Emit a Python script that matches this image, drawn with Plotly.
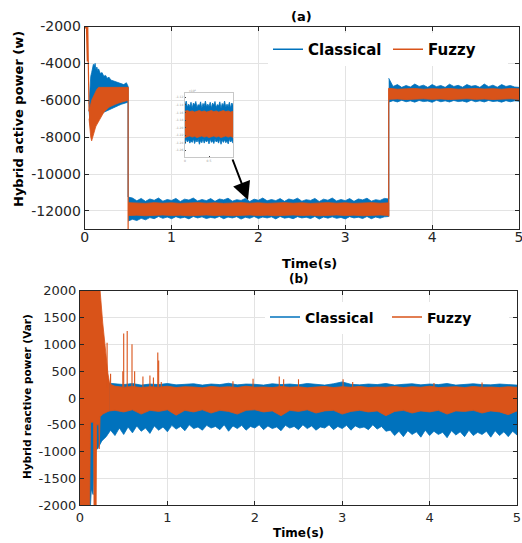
import plotly.graph_objects as go

W, H = 522, 543
BLUE = "#0072BD"
ORANGE = "#D95319"
FONT = "DejaVu Sans"
TXT = "#262626"
GRID = "#e3e3e3"

# ---------------- panel (a): hybrid active power (W) ----------------
t_a0 = [0.0, 0.01, 0.02, 0.03, 0.035, 0.04, 0.045, 0.05]
fuzzy_a0 = [-2000, -2100, -2000, -3900, -2000, -4000, -5600, -6600]

# segment 1: 0.05 - 0.5 s  (upper / lower envelopes)
t_a1 = [0.05, 0.06, 0.07, 0.08, 0.09, 0.10, 0.11, 0.12, 0.13, 0.14, 0.15, 0.16, 0.18,
        0.20, 0.22, 0.24, 0.26, 0.28, 0.30, 0.33, 0.36, 0.39, 0.42, 0.45, 0.48, 0.50]
classical_a1_up = [-6200, -5200, -4700, -4500, -4300, -4050, -4150, -4000, -4350, -4200, -4400, -4300, -4550,
                   -4500, -4700, -4650, -4800, -4750, -4900, -4950, -5000, -5050, -5100, -5150, -5050, -5250]
classical_a1_lo = [-6500, -7200, -7500, -7600, -7500, -7400, -7300, -7200, -7100, -7050, -6950, -6900, -6800,
                   -6750, -6650, -6600, -6550, -6500, -6450, -6400, -6350, -6280, -6220, -6170, -6120, -6100]
fuzzy_a1_up = [-6600, -6300, -6200, -6000, -5900, -5750, -5650, -5550, -5450, -5400, -5350, -5300, -5300,
               -5300, -5300, -5300, -5300, -5300, -5300, -5300, -5300, -5300, -5300, -5300, -5300, -5300]
fuzzy_a1_lo = [-7000, -7600, -8000, -8200, -8100, -7900, -7700, -7550, -7400, -7300, -7200, -7100, -6950,
               -6800, -6650, -6550, -6450, -6380, -6330, -6250, -6200, -6150, -6100, -6050, -6020, -6000]

# segment 2: 0.5 - 3.5 s
t_a2c = [0.50, 0.55, 0.60, 0.65, 0.70, 0.75, 0.80, 0.85, 0.90, 0.95,
         1.00, 1.05, 1.10, 1.15, 1.20, 1.25, 1.30, 1.35, 1.40, 1.45,
         1.50, 1.55, 1.60, 1.65, 1.70, 1.75, 1.80, 1.85, 1.90, 1.95,
         2.00, 2.05, 2.10, 2.15, 2.20, 2.25, 2.30, 2.35, 2.40, 2.45,
         2.50, 2.55, 2.60, 2.65, 2.70, 2.75, 2.80, 2.85, 2.90, 2.95,
         3.00, 3.05, 3.10, 3.15, 3.20, 3.25, 3.30, 3.35, 3.40, 3.45, 3.50]
classical_a2_up = [-11250, -11300, -11450, -11320, -11480, -11350, -11420, -11300, -11470, -11380,
                   -11430, -11320, -11490, -11360, -11410, -11300, -11460, -11380, -11440, -11330,
                   -11480, -11350, -11400, -11310, -11470, -11390, -11430, -11320, -11490, -11360,
                   -11420, -11300, -11450, -11380, -11440, -11330, -11480, -11350, -11410, -11310,
                   -11470, -11390, -11430, -11320, -11490, -11360, -11420, -11300, -11460, -11380,
                   -11440, -11330, -11480, -11350, -11400, -11310, -11470, -11390, -11430, -11320, -11350]
classical_a2_lo = [-12550, -12450, -12520, -12400, -12480, -12360, -12420, -12300, -12400, -12330,
                   -12420, -12310, -12390, -12340, -12430, -12300, -12380, -12320, -12410, -12350,
                   -12390, -12300, -12420, -12330, -12380, -12310, -12440, -12340, -12400, -12300,
                   -12410, -12330, -12380, -12320, -12430, -12300, -12390, -12350, -12420, -12310,
                   -12380, -12340, -12410, -12300, -12440, -12330, -12390, -12320, -12400, -12350,
                   -12430, -12310, -12380, -12340, -12410, -12300, -12420, -12330, -12390, -12320, -12300]
t_a2f = [0.5, 0.6, 0.7, 0.8, 0.9, 1.0, 1.1, 1.2, 1.3, 1.4, 1.5, 1.6, 1.7, 1.8, 1.9, 2.0,
         2.1, 2.2, 2.3, 2.4, 2.5, 2.6, 2.7, 2.8, 2.9, 3.0, 3.1, 3.2, 3.3, 3.4, 3.5]
fuzzy_a2_up = [-11550, -11570, -11590, -11550, -11580, -11560, -11590, -11570, -11550, -11580, -11560, -11590,
               -11570, -11550, -11580, -11560, -11590, -11570, -11550, -11580, -11560, -11590, -11570, -11550,
               -11580, -11560, -11590, -11570, -11550, -11580, -11560]
fuzzy_a2_lo = [-12250, -12230, -12260, -12240, -12220, -12250, -12230, -12260, -12240, -12220, -12250, -12230,
               -12260, -12240, -12220, -12250, -12230, -12260, -12240, -12220, -12250, -12230, -12260, -12240,
               -12220, -12250, -12230, -12260, -12240, -12220, -12250]

# segment 3: 3.5 - 5 s
t_a3c = [3.50, 3.55, 3.60, 3.65, 3.70, 3.75, 3.80, 3.85, 3.90, 3.95,
         4.00, 4.05, 4.10, 4.15, 4.20, 4.25, 4.30, 4.35, 4.40, 4.45,
         4.50, 4.55, 4.60, 4.65, 4.70, 4.75, 4.80, 4.85, 4.90, 4.95, 5.00]
classical_a3_up = [-4800, -5250, -5150, -5300, -5200, -5280, -5120, -5250, -5180, -5300,
                   -5150, -5260, -5200, -5300, -5130, -5250, -5190, -5290, -5150, -5240,
                   -5200, -5300, -5120, -5260, -5180, -5290, -5150, -5250, -5200, -5280, -5300]
classical_a3_lo = [-6100, -6020, -6090, -6000, -6080, -6030, -6100, -6010, -6070, -6040,
                   -6110, -6000, -6080, -6030, -6090, -6010, -6070, -6040, -6100, -6000,
                   -6080, -6030, -6090, -6010, -6070, -6040, -6100, -6020, -6080, -6030, -6050]
t_a3f = [3.5, 3.6, 3.7, 3.8, 3.9, 4.0, 4.1, 4.2, 4.3, 4.4, 4.5, 4.6, 4.7, 4.8, 4.9, 5.0]
fuzzy_a3_up = [-5350, -5400, -5380, -5360, -5400, -5370, -5390, -5360, -5400, -5380, -5360, -5390, -5370,
               -5400, -5360, -5380]
fuzzy_a3_lo = [-5950, -5930, -5960, -5940, -5920, -5950, -5930, -5960, -5940, -5920, -5950, -5930, -5960,
               -5940, -5920, -5950]
fuzzy_step_low = [-13000, -12300]

# ---------------- panel (b): hybrid reactive power (Var) ----------------
t_b_up = [0.0, 0.2, 0.3, 0.4, 0.5, 0.6, 0.7, 0.8, 0.9, 1.0, 1.1, 1.2, 1.3, 1.4,
          1.5, 1.6, 1.7, 1.8, 1.9, 2.0, 2.1, 2.2, 2.3, 2.4, 2.5, 2.6, 2.7, 2.8, 2.9, 3.0, 3.1, 3.2,
          3.3, 3.4, 3.5, 3.6, 3.7, 3.8, 3.9, 4.0, 4.1, 4.2, 4.3, 4.4, 4.5, 4.6, 4.7, 4.8, 4.9, 5.0]
classical_b_up = [300, 300, 280, 260, 250, 270, 240, 260, 250, 270, 245, 255, 265, 240,
                  260, 250, 275, 245, 260, 255, 240, 265, 250, 260, 245, 270, 255, 240, 265, 300, 255, 245,
                  260, 250, 270, 240, 255, 265, 245, 260, 250, 270, 240, 255, 265, 250, 245, 260, 250, 240]
t_b_lo = [0.0, 0.12, 0.13, 0.15, 0.16,
          0.20, 0.25, 0.30, 0.35, 0.40, 0.45, 0.50, 0.55, 0.60, 0.65, 0.70, 0.75, 0.80, 0.85, 0.90, 0.95,
          1.00, 1.05, 1.10, 1.15, 1.20, 1.25, 1.30, 1.35, 1.40, 1.45, 1.50, 1.55, 1.60, 1.65, 1.70, 1.75,
          1.80, 1.85, 1.90, 1.95, 2.00, 2.05, 2.10, 2.15, 2.20, 2.25, 2.30, 2.35, 2.40, 2.45, 2.50, 2.55,
          2.60, 2.65, 2.70, 2.75, 2.80, 2.85, 2.90, 2.95, 3.00, 3.05, 3.10, 3.15, 3.20, 3.25, 3.30, 3.35,
          3.40, 3.45, 3.50, 3.55, 3.60, 3.65, 3.70, 3.75, 3.80, 3.85, 3.90, 3.95, 4.00, 4.05, 4.10, 4.15,
          4.20, 4.25, 4.30, 4.35, 4.40, 4.45, 4.50, 4.55, 4.60, 4.65, 4.70, 4.75, 4.80, 4.85, 4.90, 4.95, 5.00]
classical_b_lo = [-2000, -2000, -1700, -1800, -1000,
                  -950, -800, -720, -600, -700, -560, -680, -540, -650, -520, -620, -560, -660, -520, -600, -540,
                  -630, -510, -580, -530, -610, -500, -570, -540, -600, -510, -560, -530, -590, -500, -620, -520,
                  -570, -510, -600, -530, -560, -500, -590, -520, -570, -540, -610, -510, -560, -530, -590, -500,
                  -570, -520, -600, -540, -560, -500, -590, -530, -570, -510, -600, -520, -560, -540, -590, -500,
                  -580, -530, -620, -600, -700, -620, -720, -610, -680, -630, -730, -600, -700, -620, -680, -640,
                  -740, -610, -690, -630, -720, -600, -700, -640, -680, -620, -730, -610, -700, -630, -720, -620, -690]

t_bf0 = [0.0, 0.11, 0.12, 0.155, 0.16, 0.185, 0.19, 0.215, 0.22, 0.23, 0.26, 0.29, 0.32, 0.34]
fuzzy_b0_up = [2000, 2000, 2000, 2000, 2000, 2000, 2000, 2000, 2000, 2000, 1400, 900, 450, 260]
fuzzy_b0_lo = [-2000, -2000, -450, -450, -2000, -2000, -500, -500, -950, -350, -300, -270, -250, -240]

t_bf = [0.34, 0.4, 0.5, 0.6, 0.7, 0.8, 0.9, 1.0, 1.1, 1.2, 1.3, 1.4, 1.5, 1.6, 1.7, 1.8, 1.9, 2.0,
        2.1, 2.2, 2.3, 2.4, 2.5, 2.6, 2.7, 2.8, 2.9, 3.0, 3.1, 3.2, 3.3, 3.4, 3.5, 3.6, 3.7, 3.8,
        3.9, 4.0, 4.1, 4.2, 4.3, 4.4, 4.5, 4.6, 4.7, 4.8, 4.9, 5.0]
fuzzy_b_up = [260, 220, 200, 215, 195, 210, 200, 220, 195, 210, 205, 190, 215, 200, 210, 195, 220, 200,
              205, 195, 215, 200, 210, 190, 205, 215, 195, 210, 200, 215, 195, 205, 200, 215, 195, 210,
              200, 220, 195, 205, 210, 195, 215, 200, 205, 195, 210, 200]
fuzzy_b_lo = [-240, -230, -260, -220, -300, -230, -250, -220, -320, -230, -260, -220, -280, -230, -250,
              -300, -230, -220, -260, -240, -330, -230, -250, -220, -280, -240, -230, -300, -250, -230,
              -260, -240, -330, -250, -230, -280, -240, -260, -230, -300, -240, -250, -230, -280, -240,
              -260, -310, -240]

fuzzy_spike_t = [0.31, 0.35, 0.49, 0.50, 0.54, 0.595, 0.625, 0.72, 0.80, 0.84, 0.89, 0.90, 0.93,
                 1.75, 1.98, 2.28, 2.33, 2.50, 3.01, 3.12, 4.05, 4.60]
fuzzy_spike_v = [1030, 450, 500, 1200, 1250, 1000, 500, 400, 420, 380, 850, 700, 300,
                 310, 360, 400, 350, 350, 350, 300, 280, 290]
fuzzy_spike_base = 200

# tick labels
ticks_a_y = [-12000, -10000, -8000, -6000, -4000, -2000]
ticks_b_y = [-2000, -1500, -1000, -500, 0, 500, 1000, 1500, 2000]
ticks_x = [0, 1, 2, 3, 4, 5]
inset_ticks_y = [-12600, -12400, -12200, -12000, -11800, -11600, -11400, -11200]


def X(px):
    return px / W


def Y(py):
    return 1 - py / H


def band(xu, up, xl, lo, color, xa, ya, lw=0.8):
    return go.Scatter(x=list(xu) + list(xl)[::-1], y=list(up) + list(lo)[::-1],
                      fill="toself", fillcolor=color, mode="lines",
                      line=dict(color=color, width=lw), showlegend=False,
                      hoverinfo="skip", xaxis=xa, yaxis=ya)


def vline(x, y0, y1, color, xa, ya, w=1.2):
    return go.Scatter(x=[x, x], y=[y0, y1], mode="lines", line=dict(color=color, width=w),
                      showlegend=False, hoverinfo="skip", xaxis=xa, yaxis=ya)


fig = go.Figure()

# ---- panel (a) + inset ----
for xa, ya in (("x", "y"), ("x3", "y3")):
    fig.add_trace(band(t_a1, classical_a1_up, t_a1, classical_a1_lo, BLUE, xa, ya))
    fig.add_trace(band(t_a2c, classical_a2_up, t_a2c, classical_a2_lo, BLUE, xa, ya))
    fig.add_trace(band(t_a3c, classical_a3_up, t_a3c, classical_a3_lo, BLUE, xa, ya))
    fig.add_trace(vline(t_a2c[0], classical_a1_lo[-1], classical_a2_up[0], BLUE, xa, ya))
    fig.add_trace(vline(t_a3c[0], classical_a2_up[-1], classical_a3_lo[0], BLUE, xa, ya))
    fig.add_trace(band(t_a1, fuzzy_a1_up, t_a1, fuzzy_a1_lo, ORANGE, xa, ya))
    fig.add_trace(band(t_a2f, fuzzy_a2_up, t_a2f, fuzzy_a2_lo, ORANGE, xa, ya))
    fig.add_trace(band(t_a3f, fuzzy_a3_up, t_a3f, fuzzy_a3_lo, ORANGE, xa, ya))
    fig.add_trace(vline(t_a2f[0], fuzzy_a1_up[-1], fuzzy_step_low[0], ORANGE, xa, ya))
    fig.add_trace(vline(t_a3f[0], fuzzy_step_low[1], fuzzy_a3_up[0], ORANGE, xa, ya))
fig.add_trace(go.Scatter(x=t_a0, y=fuzzy_a0, mode="lines", line=dict(color=ORANGE, width=1.2),
                         showlegend=False, hoverinfo="skip", xaxis="x", yaxis="y"))

# ---- panel (b) ----
fig.add_trace(band(t_b_up, classical_b_up, t_b_lo, classical_b_lo, BLUE, "x2", "y2"))
fig.add_trace(band(t_bf0, fuzzy_b0_up, t_bf0, fuzzy_b0_lo, ORANGE, "x2", "y2"))
fig.add_trace(band(t_bf, fuzzy_b_up, t_bf, fuzzy_b_lo, ORANGE, "x2", "y2"))
sx, sy = [], []
for t, v in zip(fuzzy_spike_t, fuzzy_spike_v):
    sx += [t, t, None]
    sy += [fuzzy_spike_base, v, None]
fig.add_trace(go.Scatter(x=sx, y=sy, mode="lines", line=dict(color=ORANGE, width=1.1),
                         showlegend=False, hoverinfo="skip", xaxis="x2", yaxis="y2"))

# ---- legends (entries only) ----
for name, col in (("Classical", BLUE), ("Fuzzy", ORANGE)):
    fig.add_trace(go.Scatter(x=[None], y=[None], mode="lines", name=name,
                             line=dict(color=col, width=1.5), xaxis="x", yaxis="y", legend="legend"))
for name, col in (("Classical", BLUE), ("Fuzzy", ORANGE)):
    fig.add_trace(go.Scatter(x=[None], y=[None], mode="lines", name=name,
                             line=dict(color=col, width=1.5), xaxis="x2", yaxis="y2", legend="legend2"))

common = dict(showgrid=True, gridcolor=GRID, gridwidth=1, zeroline=False, ticks="inside",
              ticklen=4, tickcolor=TXT, showline=True, linecolor=TXT, linewidth=1, mirror="ticks",
              automargin=False)
tf_a = dict(family=FONT, size=14, color=TXT)
tf_b = dict(family=FONT, size=13, color=TXT)
inset_ax = dict(tickfont=dict(size=3, color="#999"), ticks="inside", ticklen=1, showgrid=False,
                zeroline=False, showline=True, linecolor="#c8c8c8", mirror=True, automargin=False)

fig.update_layout(
    width=W, height=H, margin=dict(l=0, r=0, t=0, b=0),
    paper_bgcolor="white", plot_bgcolor="white",
    font=dict(family=FONT, color=TXT),
    xaxis=dict(domain=[X(84.7), X(519)], anchor="y", range=[0, 5], tickvals=ticks_x,
               ticktext=[str(v) for v in ticks_x], tickfont=tf_a, ticklabelstandoff=-5,
               ticklabeloverflow="allow", **common),
    yaxis=dict(domain=[Y(229.4), Y(26.5)], anchor="x", range=[-13000, -2000],
               tickvals=ticks_a_y, ticktext=[str(v) for v in ticks_a_y], tickfont=tf_a, **common),
    xaxis2=dict(domain=[X(80), X(517)], anchor="y2", range=[0, 5], tickvals=ticks_x,
                ticktext=[str(v) for v in ticks_x], tickfont=tf_b, ticklabeloverflow="allow", **common),
    yaxis2=dict(domain=[Y(505.3), Y(290.7)], anchor="x2", range=[-2000, 2000],
                tickvals=ticks_b_y, ticktext=[str(v) for v in ticks_b_y], tickfont=tf_b, **common),
    xaxis3=dict(domain=[X(185), X(233)], anchor="y3", range=[1.2, 3.2], tickvals=[1.2, 2.2, 3.2],
                ticktext=["0", "0.5", "1"], **inset_ax),
    yaxis3=dict(domain=[Y(157), Y(93)], anchor="x3", range=[-12776, -11086],
                tickvals=inset_ticks_y, ticktext=[f"{v/10000:.2f}" for v in inset_ticks_y], **inset_ax),
    legend=dict(orientation="h", x=X(268), y=Y(49.5), xanchor="left", yanchor="middle",
                bgcolor="white", borderwidth=0, font=dict(family=FONT, size=15, color="black", weight="bold"),
                itemwidth=30, tracegroupgap=0, entrywidth=75),
    legend2=dict(orientation="h", x=X(265), y=Y(317.5), xanchor="left", yanchor="middle",
                 bgcolor="white", borderwidth=0, font=dict(family=FONT, size=14, color="black", weight="bold"),
                 itemwidth=30, tracegroupgap=0, entrywidth=77),
    showlegend=True,
)

bold = dict(family=FONT, color="black", weight="bold")
ann = [
    dict(text="(a)", x=X(301.5), y=Y(16.7), font=dict(size=13, **bold)),
    dict(text="Time(s)", x=X(309), y=Y(263), font=dict(size=13, **bold)),
    dict(text="Hybrid active power (w)", x=X(18), y=Y(119), textangle=-90, font=dict(size=13, **bold)),
    dict(text="(b)", x=X(299), y=Y(279.3), font=dict(size=12, **bold)),
    dict(text="Time(s)", x=X(298.5), y=Y(533.3), font=dict(size=12, **bold)),
    dict(text="Hybrid reactive power (Var)", x=X(27), y=Y(397), textangle=-90,
         font=dict(size=10.5, **bold)),
    dict(text="x10<sup>4</sup>", x=X(187), y=Y(91), font=dict(size=3, color="#999"), xanchor="left"),
]
for a in ann:
    a.setdefault("xanchor", "center")
    fig.add_annotation(xref="paper", yref="paper", showarrow=False, yanchor="middle", **a)

fig.add_annotation(xref="paper", yref="paper", x=X(248), y=Y(200), ax=-16, ay=-42,
                   text="", showarrow=True, arrowhead=2, arrowsize=1.8, arrowwidth=2,
                   arrowcolor="black")

# remove the browser's default 8 px page margin so the figure fills the 522x543 window
page_css = ("document.body.style.margin='0';document.body.style.padding='0';"
            "document.documentElement.style.overflow='hidden';document.body.style.overflow='hidden';")
fig.write_html("out.html", post_script=page_css, config={"displayModeBar": False})
